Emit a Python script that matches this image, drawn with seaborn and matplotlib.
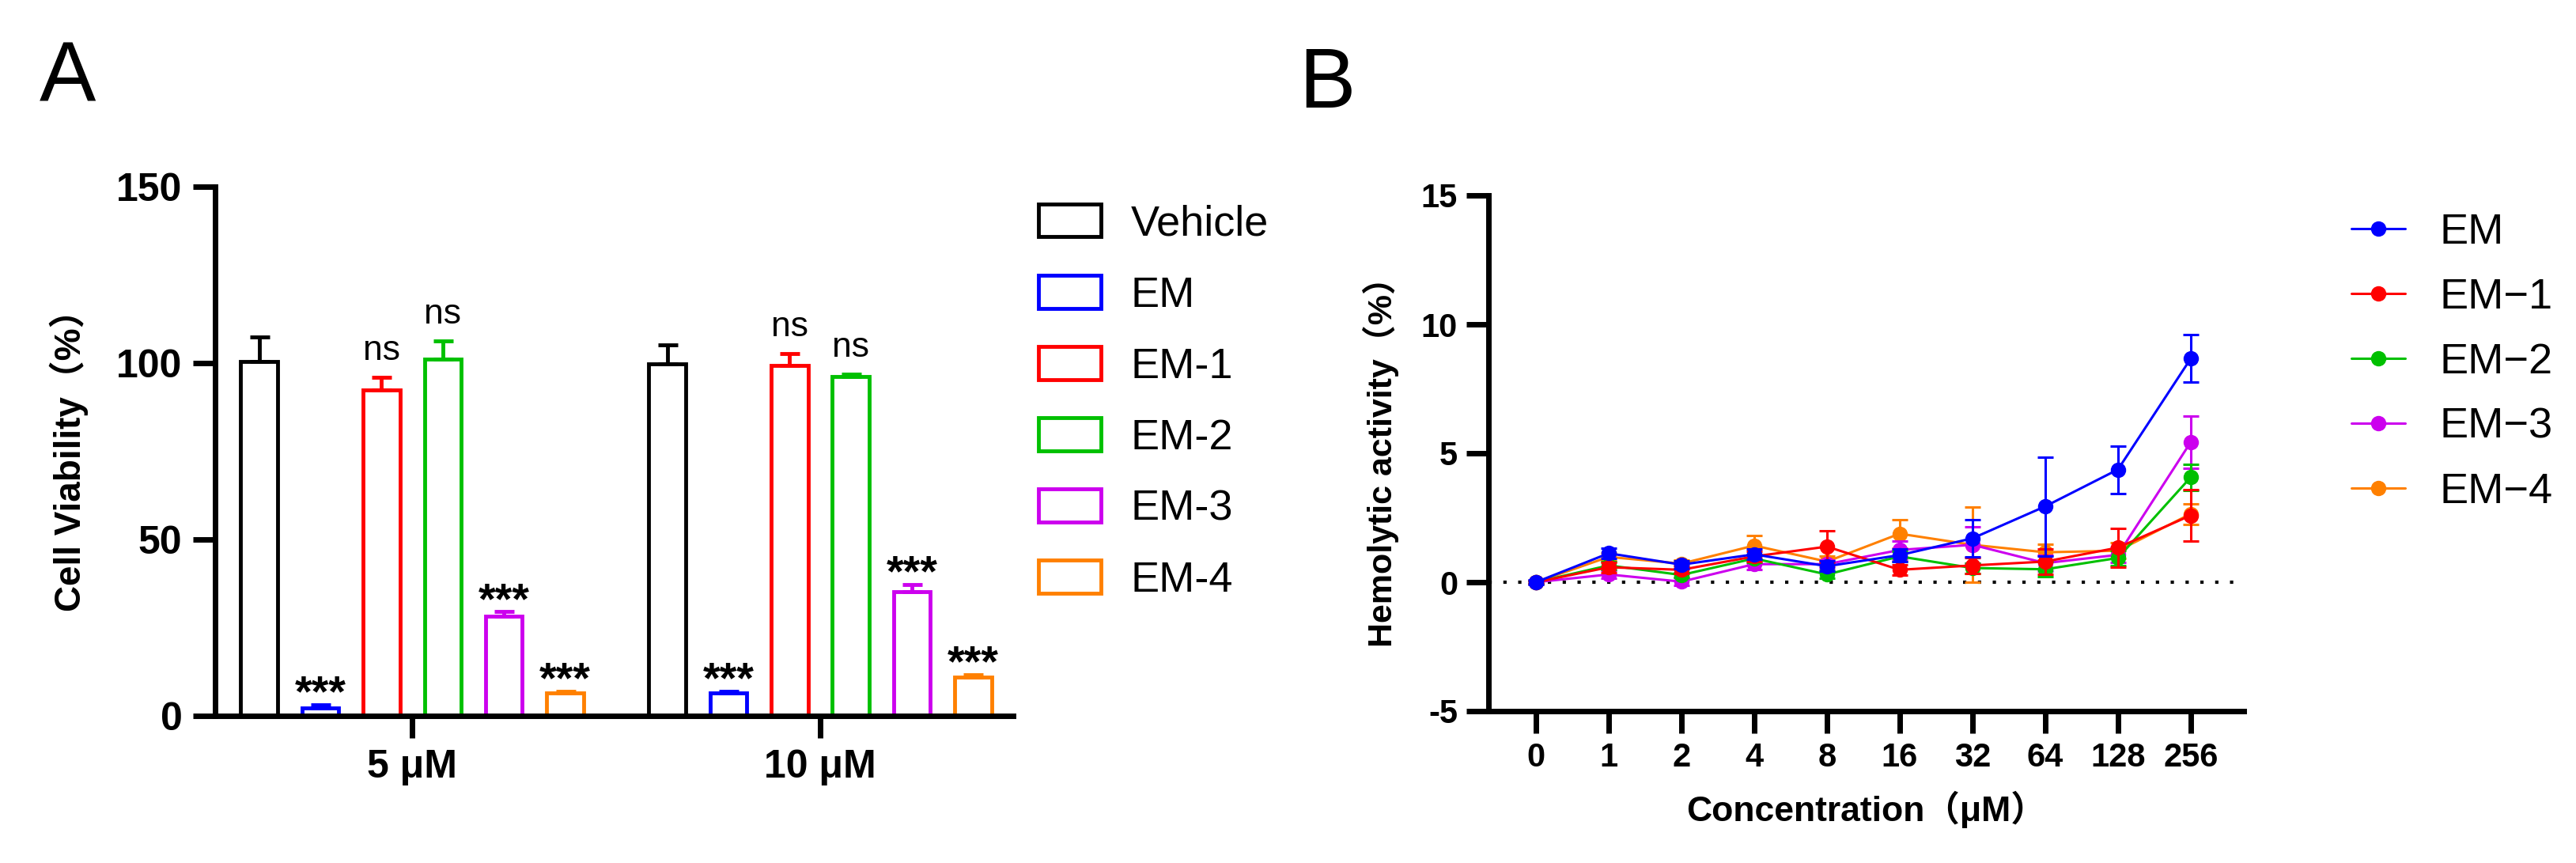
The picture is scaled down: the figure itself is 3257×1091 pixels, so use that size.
import numpy as np
import pandas as pd
import seaborn as sns
import matplotlib.pyplot as plt

# Panel A: cell viability (mean, SD) at two doses
doses = ['5 μM', '10 μM']
groups_a = ['Vehicle', 'EM', 'EM-1', 'EM-2', 'EM-3', 'EM-4']
viab_5 = [100.5, 2.3, 92.3, 101.2, 28.3, 6.4]
viab_10 = [99.7, 6.4, 99.4, 96.1, 35.2, 10.9]
sd_5 = [7.0, 0.8, 3.7, 5.0, 1.2, 0.6]
sd_10 = [5.5, 0.6, 3.3, 0.8, 2.0, 0.7]
sig_5 = ['', '***', 'ns', 'ns', '***', '***']
sig_10 = ['', '***', 'ns', 'ns', '***', '***']
colors_a = ['#000000', '#0000FF', '#FF0000', '#00C000', '#CC00EE', '#FF8000']

# Panel B: hemolytic activity (mean, SD) vs concentration
conc = ['0', '1', '2', '4', '8', '16', '32', '64', '128', '256']
groups_b = ['EM', 'EM−1', 'EM−2', 'EM−3', 'EM−4']
em = [0.0, 1.12, 0.68, 1.08, 0.62, 1.05, 1.70, 2.94, 4.37, 8.67]
em_sd = [0.08, 0.2, 0.15, 0.2, 0.2, 0.25, 0.72, 1.92, 0.92, 0.92]
em1 = [0.0, 0.58, 0.48, 1.0, 1.38, 0.48, 0.65, 0.80, 1.34, 2.59]
em1_sd = [0.05, 0.2, 0.15, 0.2, 0.6, 0.2, 0.3, 0.5, 0.76, 1.0]
em2 = [0.0, 0.65, 0.28, 0.92, 0.30, 1.0, 0.55, 0.50, 0.94, 4.07]
em2_sd = [0.05, 0.15, 0.1, 0.15, 0.15, 0.2, 0.2, 0.3, 0.3, 0.5]
em3 = [0.0, 0.30, 0.02, 0.70, 0.70, 1.25, 1.45, 0.74, 1.06, 5.43]
em3_sd = [0.05, 0.15, 0.15, 0.2, 0.15, 0.35, 0.7, 0.3, 0.3, 1.0]
em4 = [0.0, 0.98, 0.72, 1.42, 0.80, 1.88, 1.45, 1.16, 1.22, 2.65]
em4_sd = [0.05, 0.15, 0.15, 0.4, 0.2, 0.55, 1.45, 0.3, 0.3, 0.4]
colors_b = ['#0000FF', '#FF0000', '#00C000', '#CC00EE', '#FF8000']

sns.set_style('ticks')
plt.rcParams['font.family'] = ['Liberation Sans', 'Noto Sans CJK SC', 'DejaVu Sans']
plt.rcParams.update({
    'axes.linewidth': 5,
    'axes.edgecolor': 'black',
    'axes.labelcolor': 'black',
    'text.color': 'black',
    'xtick.color': 'black',
    'ytick.color': 'black',
    'axes.unicode_minus': False,
})

W, H = 3257, 1091
fig = plt.figure(figsize=(W / 100, H / 100), dpi=100)
ax_a = fig.add_axes([272 / W, 1 - 905 / H, (1281 - 272) / W, (905 - 236) / H])
ax_b = fig.add_axes([1882 / W, 1 - 899 / H, (2837 - 1882) / W, (899 - 247) / H])

# ---- Panel A ----
df_a = pd.DataFrame({
    'dose': np.repeat(doses, len(groups_a)),
    'group': groups_a * 2,
    'viability': viab_5 + viab_10,
    'sd': sd_5 + sd_10,
    'sig': sig_5 + sig_10,
})
sns.barplot(data=df_a, x='dose', y='viability', hue='group', hue_order=groups_a,
            palette=colors_a, fill=False, linewidth=3.5, width=0.9, gap=0.4,
            errorbar=None, legend=False, ax=ax_a)

bars = list(ax_a.containers)
for i, cont in enumerate(bars):
    sub = df_a[df_a.group == groups_a[i]]
    xs = [b.get_x() + b.get_width() / 2 for b in cont]
    ys = [b.get_height() for b in cont]
    ax_a.errorbar(xs, ys, yerr=[np.zeros(len(xs)), sub.sd.values], fmt='none',
                  ecolor=colors_a[i], elinewidth=3.5, capsize=9, capthick=3.5)
    for x, y, e, s in zip(xs, ys, sub.sd.values, sub.sig.values):
        if s == 'ns':
            ax_a.annotate(s, (x, y + e), xytext=(0, 16), textcoords='offset points',
                          ha='center', va='baseline', fontsize=32)
        elif s:
            ax_a.annotate(s, (x, y + e), xytext=(0, -1), textcoords='offset points',
                          ha='center', va='baseline', fontsize=40, fontweight='bold')

ax_a.set_xlim(-0.483, 1.473)
ax_a.set_ylim(0, 150)
ax_a.set_yticks([0, 50, 100, 150])
ax_a.set_xlabel('')
ax_a.set_ylabel('Cell Viability（%）', fontsize=33, fontweight='bold', labelpad=25)
ax_a.tick_params(width=5, length=20, labelsize=36, pad=10)
plt.setp(ax_a.get_xticklabels() + ax_a.get_yticklabels(), fontweight='bold')
sns.despine(ax=ax_a)
ax_a.legend(bars, groups_a, loc='upper left',
            bbox_to_anchor=(1313 / W, 1 - 258 / H), bbox_transform=fig.transFigure,
            frameon=False, fontsize=39, handlelength=1.45, handleheight=0.8,
            handletextpad=0.7, labelspacing=0.73, borderpad=0, borderaxespad=0)

# ---- Panel B ----
means_b = [em, em1, em2, em3, em4]
sds_b = [em_sd, em1_sd, em2_sd, em3_sd, em4_sd]
df_b = pd.DataFrame({
    'pos': np.tile(np.arange(len(conc)), len(groups_b)),
    'compound': np.repeat(groups_b, len(conc)),
    'value': np.concatenate(means_b),
    'sd': np.concatenate(sds_b),
})
ax_b.axhline(0, color='black', lw=3, ls=(0, (1, 3.5)), zorder=1)
sns.lineplot(data=df_b, x='pos', y='value', hue='compound', hue_order=groups_b,
             palette=colors_b, marker='o', markersize=14, markeredgewidth=0,
             linewidth=2.2, legend=False, ax=ax_b)
handles = list(ax_b.lines[1:1 + len(groups_b)])
for i, line in enumerate(handles):
    line.set_zorder(10 - i)
    sub = df_b[df_b.compound == groups_b[i]]
    ax_b.errorbar(sub.pos, sub.value, yerr=sub.sd, fmt='none', ecolor=colors_b[i],
                  elinewidth=2.2, capsize=7, capthick=2.2, zorder=10 - i)

ax_b.set_xlim(-0.652, 9.73)
ax_b.set_ylim(-5, 15)
ax_b.set_yticks([-5, 0, 5, 10, 15])
ax_b.set_xticks(np.arange(len(conc)))
ax_b.set_xticklabels(conc)
ax_b.set_xlabel('Concentration（μM）', fontsize=32, fontweight='bold', labelpad=16)
ax_b.set_ylabel('Hemolytic activity（%）', fontsize=31, fontweight='bold', labelpad=20)
ax_b.tick_params(width=5, length=20, labelsize=30, pad=8)
plt.setp(ax_b.get_xticklabels() + ax_b.get_yticklabels(), fontweight='bold')
sns.despine(ax=ax_b)
ax_b.legend(handles, groups_b, loc='upper left',
            bbox_to_anchor=(2973 / W, 1 - 269 / H), bbox_transform=fig.transFigure,
            frameon=False, fontsize=39, handlelength=1.25, handletextpad=0.8,
            labelspacing=0.59, borderpad=0, borderaxespad=0)

fig.text(50 / W, 1 - 129 / H, 'A', fontsize=77, ha='left', va='baseline')
fig.text(1642 / W, 1 - 136 / H, 'B', fontsize=77, ha='left', va='baseline')

fig.savefig('out.png', dpi=100)
